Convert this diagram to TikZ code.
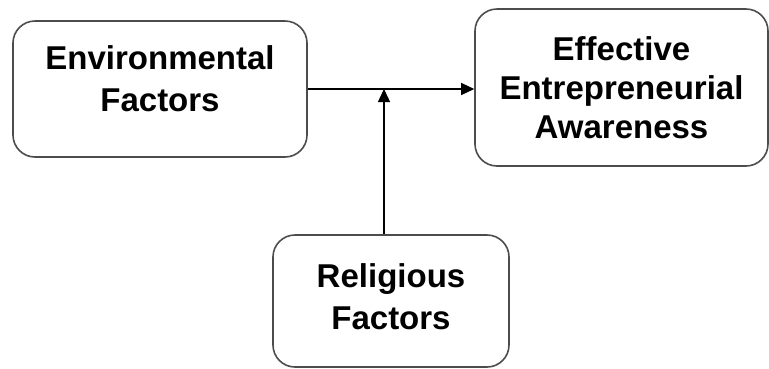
\documentclass[tikz,border=0pt]{standalone}
\usepackage{fontspec}
\setmainfont{Liberation Sans}
\usepackage{tikz}
\usetikzlibrary{arrows.meta}
\usetikzlibrary{positioning}

\begin{document}
\begin{tikzpicture}[x=1pt,y=-1pt]
\tikzstyle{factor}=[draw=black!70,line width=1.6pt,rounded corners=22pt,inner sep=0pt,
                    align=center,font=\bfseries\fontsize{33}{42}\selectfont]
\tikzstyle{link}=[line width=1.4pt,-{Triangle[length=13pt,width=12pt]}]
\useasboundingbox (0,0) rectangle (769,368);

\node[factor,minimum width=294pt,minimum height=136pt,text depth=20pt] (env) at (160,89)
    {Environmental\\Factors};
\node[factor,minimum width=293pt,minimum height=157pt,
      font=\bfseries\fontsize{33}{39}\selectfont] (eff) at (621.5,87.5)
    {Effective\\Entrepreneurial\\Awareness};
\node[factor,minimum width=236pt,minimum height=132pt,text depth=9pt] (rel) at (391,301)
    {Religious\\Factors};

\coordinate (meet) at (384,89);
\draw[link] (env.east) -- (env.east -| eff.west);
\draw[link] (rel.north -| meet) -- (meet);
\end{tikzpicture}
\end{document}
